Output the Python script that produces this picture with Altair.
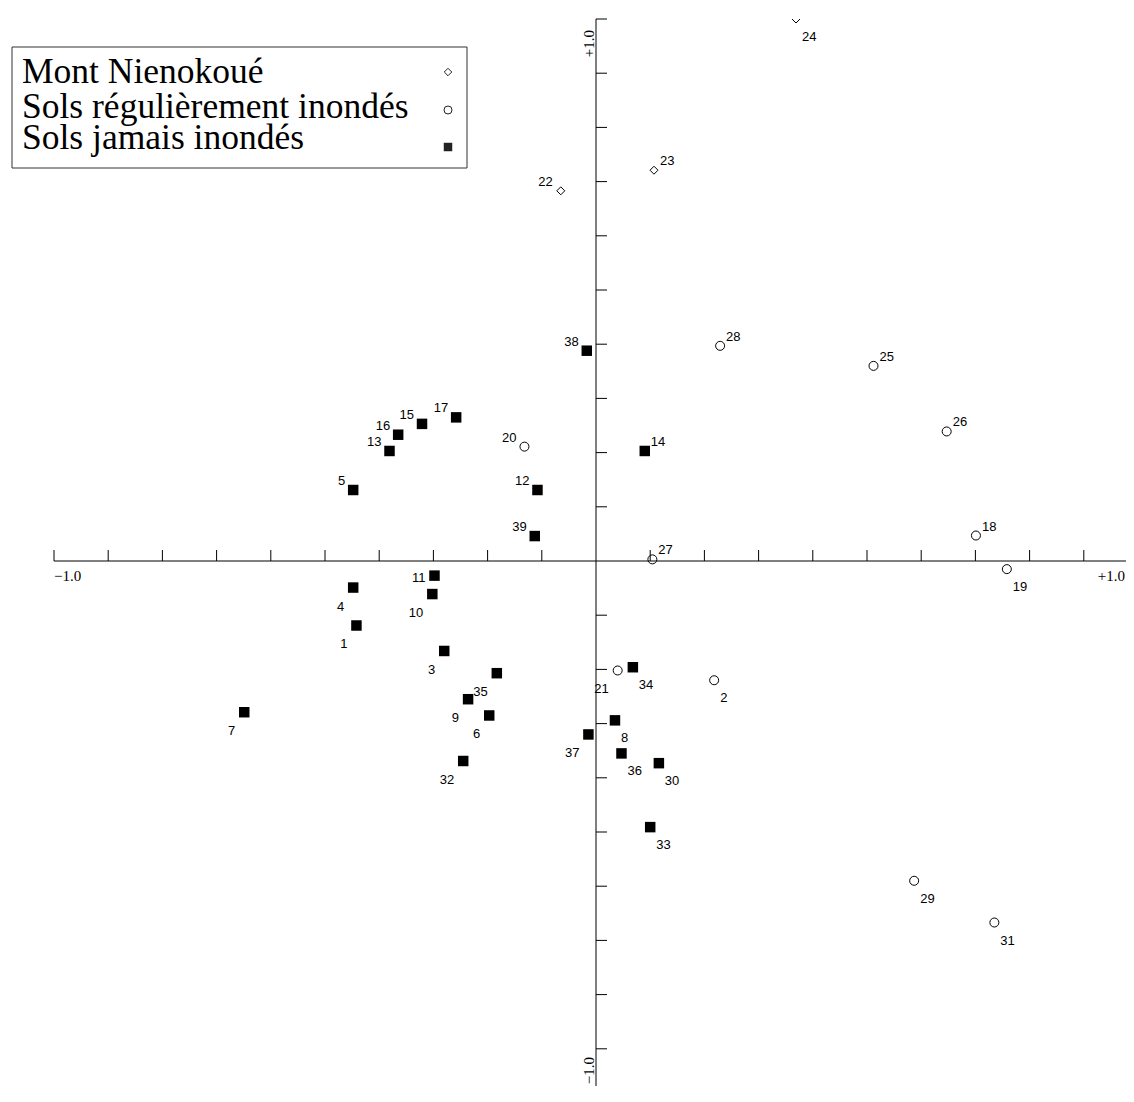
import altair as alt
import pandas as pd

# ---------------- data ----------------
POINT_IDS = [1, 2, 3, 4, 5, 6, 7, 8, 9, 10, 11, 12, 13, 14, 15, 16, 17, 18, 19, 20,
             21, 22, 23, 24, 25, 26, 27, 28, 29, 30, 31, 32, 33, 34, 35, 36, 37, 38, 39]
X_COORD = [-0.442, 0.218, -0.280, -0.448, -0.448, -0.197, -0.649, 0.035, -0.236, -0.302,
           -0.298, -0.108, -0.381, 0.090, -0.321, -0.365, -0.258, 0.701, 0.758, -0.132,
           0.040, -0.065, 0.107, 0.369, 0.512, 0.647, 0.104, 0.229, 0.587, 0.116,
           0.735, -0.245, 0.100, 0.068, -0.183, 0.047, -0.014, -0.017, -0.113]
Y_COORD = [-0.119, -0.220, -0.166, -0.049, 0.131, -0.285, -0.279, -0.294, -0.255, -0.061,
           -0.027, 0.131, 0.203, 0.203, 0.253, 0.233, 0.265, 0.047, -0.015, 0.211,
           -0.202, 0.683, 0.721, 1.000, 0.360, 0.239, 0.003, 0.397, -0.590, -0.373,
           -0.667, -0.369, -0.491, -0.196, -0.207, -0.355, -0.320, 0.388, 0.046]

GROUP_NAMES = ["Mont Nienokoué", "Sols régulièrement inondés", "Sols jamais inondés"]
MONT_IDS = [22, 23, 24]
REGULIER_IDS = [2, 18, 19, 20, 21, 25, 26, 27, 28, 29, 31]

AXIS_TICKS = [-1.0, -0.9, -0.8, -0.7, -0.6, -0.5, -0.4, -0.3, -0.2, -0.1,
              0.1, 0.2, 0.3, 0.4, 0.5, 0.6, 0.7, 0.8, 0.9, 1.0]
AXIS_LABEL_VALUES = [-1.0, 1.0]
AXIS_LABEL_TEXTS = ["\u22121.0", "+1.0"]

# label placement around each point (style)
LABEL_SIDES = {
    "ur": [14, 18, 23, 25, 26, 27, 28],
    "ul": [5, 12, 13, 15, 16, 17, 20, 22, 38, 39],
    "l": [11],
    "ll": [1, 3, 4, 6, 7, 9, 10, 21, 32, 35, 37],
    "lr": [2, 8, 19, 24, 29, 30, 31, 33, 34, 36],
}
LABEL_STYLE = {
    "ur": dict(align="left", baseline="alphabetic", dx=6, dy=-5),
    "ul": dict(align="right", baseline="alphabetic", dx=-8, dy=-5),
    "l": dict(align="right", baseline="middle", dx=-9, dy=2),
    "ll": dict(align="right", baseline="alphabetic", dx=-9, dy=23),
    "lr": dict(align="left", baseline="alphabetic", dx=6, dy=22),
}


def group_of(i):
    if i in MONT_IDS:
        return GROUP_NAMES[0]
    if i in REGULIER_IDS:
        return GROUP_NAMES[1]
    return GROUP_NAMES[2]


def side_of(i):
    for k, v in LABEL_SIDES.items():
        if i in v:
            return k
    return "ur"


df = pd.DataFrame({"id": POINT_IDS, "x": X_COORD, "y": Y_COORD})
df["group"] = [group_of(i) for i in POINT_IDS]
df["side"] = [side_of(i) for i in POINT_IDS]
df["label"] = [str(i) for i in POINT_IDS]

# ---------------- scales ----------------
PX_PER_UNIT = 542.0
PAD_LEFT, PAD_TOP = 46, 11
W, H = 1072, 1067          # svg = 1118 x 1078, fits the page without scrolling
xs = alt.Scale(domain=[-1.0, -1.0 + W / PX_PER_UNIT], nice=False, zero=False)
ys = alt.Scale(domain=[1.0 - H / PX_PER_UNIT, 1.0], nice=False, zero=False)

LABEL_FONT = "Liberation Sans"
SERIF = "Liberation Serif"

# ---------------- axes ----------------
axis_df = pd.DataFrame({"a": [-1.0], "b": [1.0], "z": [0.0]})
x_axis_line = alt.Chart(axis_df).mark_rule(color="black", strokeWidth=1).encode(
    x=alt.X("a:Q", scale=xs, axis=None), x2="b:Q",
    y=alt.Y("z:Q", scale=ys, axis=None))
y_axis_line = alt.Chart(axis_df).mark_rule(color="black", strokeWidth=1).encode(
    y=alt.Y("b:Q", scale=ys, axis=None), y2="a:Q",
    x=alt.X("z:Q", scale=xs, axis=None))

tick_df = pd.DataFrame({"t": AXIS_TICKS, "z": [0.0] * len(AXIS_TICKS)})
x_ticks = alt.Chart(tick_df).mark_rule(color="black", strokeWidth=1, y2Offset=-11).encode(
    x=alt.X("t:Q", scale=xs, axis=None),
    y=alt.Y("z:Q", scale=ys, axis=None), y2="z:Q")
y_ticks = alt.Chart(tick_df).mark_rule(color="black", strokeWidth=1, x2Offset=11).encode(
    y=alt.Y("t:Q", scale=ys, axis=None),
    x=alt.X("z:Q", scale=xs, axis=None), x2="z:Q")

lab_df = pd.DataFrame({"v": AXIS_LABEL_VALUES, "z": [0.0, 0.0], "t": AXIS_LABEL_TEXTS})
x_lab_left = alt.Chart(lab_df).transform_filter(alt.datum.v < 0).mark_text(
    align="left", baseline="alphabetic", dy=20, font=SERIF, fontSize=15, color="black").encode(
    x=alt.X("v:Q", scale=xs, axis=None), y=alt.Y("z:Q", scale=ys, axis=None), text="t:N")
x_lab_right = alt.Chart(lab_df).transform_filter(alt.datum.v > 0).mark_text(
    align="right", baseline="alphabetic", dx=-13, dy=20, font=SERIF, fontSize=15, color="black").encode(
    x=alt.X("v:Q", scale=xs, axis=None), y=alt.Y("z:Q", scale=ys, axis=None), text="t:N")
y_lab_top = alt.Chart(lab_df).transform_filter(alt.datum.v > 0).mark_text(
    align="right", baseline="alphabetic", angle=270, dx=-11, dy=-2, font=SERIF, fontSize=15,
    color="black").encode(
    y=alt.Y("v:Q", scale=ys, axis=None), x=alt.X("z:Q", scale=xs, axis=None), text="t:N")
y_lab_bottom = alt.Chart(lab_df).transform_filter(alt.datum.v < 0).mark_text(
    align="right", baseline="alphabetic", angle=270, dx=46, dy=-2, font=SERIF, fontSize=15,
    color="black").encode(
    y=alt.Y("v:Q", scale=ys, axis=None), x=alt.X("z:Q", scale=xs, axis=None), text="t:N")

# ---------------- points ----------------
enc = dict(x=alt.X("x:Q", scale=xs, axis=None), y=alt.Y("y:Q", scale=ys, axis=None))
diamonds = alt.Chart(df).transform_filter(alt.datum.group == GROUP_NAMES[0]).mark_point(
    shape="diamond", size=64, filled=False, color="black", strokeWidth=1, opacity=1, clip=True
).encode(**enc)
circles = alt.Chart(df).transform_filter(alt.datum.group == GROUP_NAMES[1]).mark_point(
    shape="circle", size=81, filled=False, color="black", strokeWidth=1, opacity=1, clip=True
).encode(**enc)
squares = alt.Chart(df).transform_filter(alt.datum.group == GROUP_NAMES[2]).mark_point(
    shape="square", size=110, filled=True, color="black", opacity=1, clip=True
).encode(**enc)

labels = []
for side, style in LABEL_STYLE.items():
    labels.append(
        alt.Chart(df).transform_filter(alt.datum.side == side).mark_text(
            font=LABEL_FONT, fontSize=13, color="black", **style
        ).encode(text="label:N", **enc)
    )

# ---------------- legend box (custom: labels left, symbols right) ----------------
one = pd.DataFrame({"k": [0]})
legend_box = alt.Chart(one).mark_rect(fill="white", stroke="#333333", strokeWidth=1).encode(
    x=alt.value(-42), x2=alt.value(413), y=alt.value(28), y2=alt.value(149))

LEGEND_BASELINES = [64, 99, 130]
LEGEND_SYMBOL_Y = [53, 91, 128]
LEGEND_SHAPES = ["diamond", "circle", "square"]
LEGEND_SIZES = [56, 64, 72]
LEGEND_FILLED = [False, False, True]

legend_layers = [legend_box]
for i, name in enumerate(GROUP_NAMES):
    ldf = pd.DataFrame({"name": [name]})
    legend_layers.append(
        alt.Chart(ldf).mark_text(align="left", baseline="alphabetic", font=SERIF,
                                 fontSize=35.5, color="black").encode(
            x=alt.value(-32), y=alt.value(LEGEND_BASELINES[i]), text="name:N"))
    legend_layers.append(
        alt.Chart(ldf).mark_point(shape=LEGEND_SHAPES[i], size=LEGEND_SIZES[i],
                                  filled=LEGEND_FILLED[i], color="#222222",
                                  strokeWidth=1, opacity=1).encode(
            x=alt.value(394), y=alt.value(LEGEND_SYMBOL_Y[i])))

chart = alt.layer(
    x_axis_line, y_axis_line, x_ticks, y_ticks,
    x_lab_left, x_lab_right, y_lab_top, y_lab_bottom,
    diamonds, circles, squares, *labels, *legend_layers
).properties(
    width=W, height=H,
    padding={"left": PAD_LEFT, "top": PAD_TOP, "right": 0, "bottom": 0},
    autosize=alt.AutoSizeParams(type="none"),
    background="white",
).configure_view(stroke=None)

chart.save("out.html", embed_options={"renderer": "svg", "actions": False})
